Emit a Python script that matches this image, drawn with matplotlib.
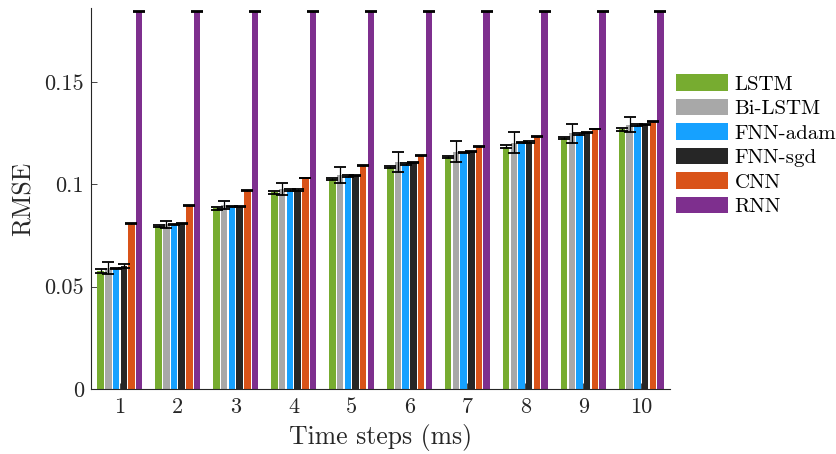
import numpy as np
import matplotlib
matplotlib.use("Agg")
import matplotlib.pyplot as plt

plt.rcParams["font.family"] = ["cmr10", "DejaVu Serif"]
plt.rcParams["mathtext.fontset"] = "cm"
plt.rcParams["axes.unicode_minus"] = False
plt.rcParams["axes.formatter.use_mathtext"] = True

# values
steps = [1, 2, 3, 4, 5, 6, 7, 8, 9, 10]
models = ["LSTM", "Bi-LSTM", "FNN-adam", "FNN-sgd", "CNN", "RNN"]
colors = ["#77AC30", "#A8A8A8", "#16A1FF", "#262626", "#D95319", "#7E2F8E"]

lstm = [0.0577, 0.0797, 0.0883, 0.0961, 0.1025, 0.1087, 0.1135, 0.1184, 0.1227, 0.1269]
bilstm = [0.0590, 0.0806, 0.0900, 0.0978, 0.1046, 0.1110, 0.1160, 0.1204, 0.1250, 0.1292]
fnn_adam = [0.0588, 0.0805, 0.0891, 0.0973, 0.1041, 0.1100, 0.1156, 0.1204, 0.1246, 0.1290]
fnn_sgd = [0.0600, 0.0810, 0.0891, 0.0973, 0.1043, 0.1106, 0.1160, 0.1207, 0.1253, 0.1294]
cnn = [0.0810, 0.0896, 0.0970, 0.1031, 0.1092, 0.1140, 0.1186, 0.1232, 0.1271, 0.1306]
rnn = [0.1843, 0.1843, 0.1843, 0.1843, 0.1843, 0.1843, 0.1843, 0.1843, 0.1843, 0.1843]

lstm_err = [0.0008, 0.0005, 0.0006, 0.0006, 0.0006, 0.0005, 0.0006, 0.0006, 0.0006, 0.0006]
bilstm_err = [0.0030, 0.0017, 0.0020, 0.0030, 0.0040, 0.0050, 0.0050, 0.0050, 0.0047, 0.0037]
fnn_adam_err = [0.0004, 0.0003, 0.0003, 0.0003, 0.0003, 0.0003, 0.0003, 0.0003, 0.0003, 0.0003]
fnn_sgd_err = [0.0010, 0.0003, 0.0003, 0.0003, 0.0003, 0.0003, 0.0003, 0.0003, 0.0003, 0.0003]
cnn_err = [0.0002, 0.0002, 0.0002, 0.0002, 0.0002, 0.0002, 0.0002, 0.0002, 0.0002, 0.0002]
rnn_err = [0.0002, 0.0002, 0.0002, 0.0002, 0.0002, 0.0002, 0.0002, 0.0002, 0.0002, 0.0002]

series = [lstm, bilstm, fnn_adam, fnn_sgd, cnn, rnn]
errors = [lstm_err, bilstm_err, fnn_adam_err, fnn_sgd_err, cnn_err, rnn_err]

fig = plt.figure(figsize=(8.37, 4.54), dpi=100)
ax = fig.add_axes([0.1087, 0.1432, 0.692, 0.8392])

x = np.array(steps, dtype=float)
pitch = 0.133
width = 0.112
for i, (vals, errs) in enumerate(zip(series, errors)):
    pos = x + (i - 2.5) * pitch
    ax.bar(pos, vals, width=width, color=colors[i], edgecolor="none", label=models[i], zorder=2)
    ax.errorbar(pos, vals, yerr=errs, fmt="none", ecolor="black", elinewidth=0.9,
                capsize=4.6, capthick=1.3, zorder=3)

ax.set_xlim(0.5, 10.5)
ax.set_ylim(0, 0.1862)
ax.set_xticks(steps)
ax.set_xticklabels([str(s) for s in steps])
ax.set_yticks([0, 0.05, 0.1, 0.15])
ax.set_yticklabels(["0", "0.05", "0.1", "0.15"])

for s in ["top", "right"]:
    ax.spines[s].set_visible(False)
for s in ["left", "bottom"]:
    ax.spines[s].set_color("#262626")
    ax.spines[s].set_linewidth(0.8)
ax.tick_params(axis="both", direction="in", length=4, width=0.6, colors="#262626",
               labelsize=16, labelcolor="#262626")
ax.tick_params(axis="x", pad=6)
ax.tick_params(axis="y", pad=5)

ax.set_xlabel("Time steps (ms)", fontsize=18.5, color="#262626", labelpad=5)
ax.set_ylabel("RMSE", fontsize=18.5, color="#262626", labelpad=6)

leg = ax.legend(loc="upper left", bbox_to_anchor=(672 / 837, 1 - 70 / 454),
                bbox_transform=fig.transFigure, frameon=False, fontsize=15,
                handlelength=2.5, handleheight=0.85, handletextpad=0.3, labelspacing=0.24,
                borderaxespad=0, borderpad=0.2)

fig.savefig("out.png", dpi=100)
